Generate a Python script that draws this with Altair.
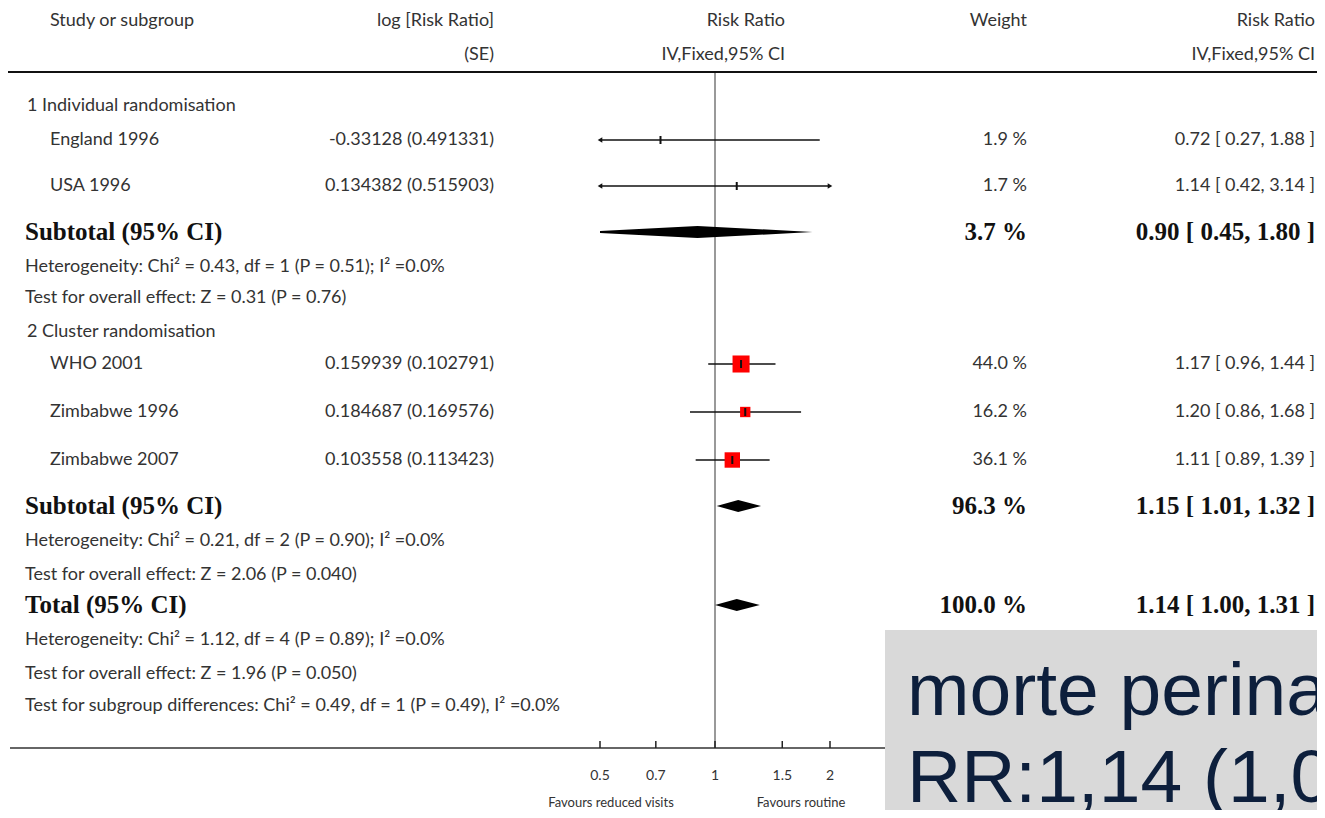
import altair as alt
import pandas as pd
import math

# ---------------- data ----------------
study_names = ["England 1996", "USA 1996", "WHO 2001", "Zimbabwe 1996", "Zimbabwe 2007"]
log_rr = ["-0.33128", "0.134382", "0.159939", "0.184687", "0.103558"]
log_se = ["0.491331", "0.515903", "0.102791", "0.169576", "0.113423"]
weights = [1.9, 1.7, 44.0, 16.2, 36.1]
rr = [0.72, 1.14, 1.17, 1.20, 1.11]
rr_lo = [0.27, 0.42, 0.96, 0.86, 0.89]
rr_hi = [1.88, 3.14, 1.44, 1.68, 1.39]

summary_labels = ["Subtotal (95% CI)", "Subtotal (95% CI)", "Total (95% CI)"]
summary_weights = [3.7, 96.3, 100.0]
summary_rr = [0.90, 1.15, 1.14]
summary_lo = [0.45, 1.01, 1.00]
summary_hi = [1.80, 1.32, 1.31]

group_labels = ["1 Individual randomisation", "2 Cluster randomisation"]
stat_lines = [
    "Heterogeneity: Chi² = 0.43, df = 1 (P = 0.51); I² =0.0%",
    "Test for overall effect: Z = 0.31  (P = 0.76)",
    "Heterogeneity: Chi² = 0.21, df = 2 (P = 0.90); I² =0.0%",
    "Test for overall effect: Z = 2.06 (P = 0.040)",
    "Heterogeneity: Chi² = 1.12, df = 4 (P = 0.89); I² =0.0%",
    "Test for overall effect: Z = 1.96 (P = 0.050)",
    "Test for subgroup differences: Chi² = 0.49, df = 1 (P = 0.49), I² =0.0%",
]
header_top = ["Study or subgroup", "log [Risk Ratio]", "Risk Ratio", "Weight", "Risk Ratio"]
header_bottom = ["", "(SE)", "IV,Fixed,95% CI", "", "IV,Fixed,95% CI"]
axis_ticks = [0.5, 0.7, 1, 1.5, 2]
axis_tick_labels = ["0.5", "0.7", "1", "1.5", "2"]
favours = ["Favours reduced visits", "Favours routine"]
note_lines = ["morte perinatal", "RR:1,14 (1,00-1,31)"]

# ---------------- layout (rows and columns, pixels) ----------------
W, H = 1309, 802
XMIN, XMAX = 0.5, 2.0
x_scale = alt.Scale(type="log", domain=[XMIN, XMAX], range=[592, 822])
y_scale = alt.Scale(domain=[0, H], range=[0, H])

y_header = [13, 47]
y_groups = [98, 324]
y_studies = [132, 178, 356, 404, 452]
y_summary = [224, 498, 597]
y_stats = [259, 290, 533, 567, 632, 666, 698]
y_top_rule, y_axis = 64, 740
y_tick_lab, y_favours = 768, 795
col_name, col_group, col_left = 42, 19, 17
col_log, col_rrhead, col_weight, col_rr = 486, 777, 1019, 1307
favours_px = [603, 793]
header_cols = [(col_name, "left"), (col_log, "right"), (col_rrhead, "right"),
               (col_weight, "right"), (col_rr, "right")]

FONT = "Lato"
SERIF = "Liberation Serif"
TXT = "#333333"
FS = 18
BFS = 25


def clip(v):
    return min(max(v, XMIN), XMAX)


studies = pd.DataFrame({
    "name": study_names, "logtxt": [f"{a} ({b})" for a, b in zip(log_rr, log_se)],
    "w": weights, "rr": rr, "lo": rr_lo, "hi": rr_hi, "y": y_studies,
})
studies["lo_c"] = studies["lo"].apply(clip)
studies["hi_c"] = studies["hi"].apply(clip)
studies["wtxt"] = studies["w"].map(lambda v: f"{v:.1f} %")
studies["citxt"] = [f"{r:.2f} [ {l:.2f}, {h:.2f} ]" for r, l, h in zip(rr, rr_lo, rr_hi)]
studies["yt"] = studies["y"] - 4
studies["yb"] = studies["y"] + 4

arrows = []
for _, r in studies.iterrows():
    if r["lo"] < XMIN:
        arrows.append({"x": XMIN, "y": r["y"], "shape": "triangle-left"})
    if r["hi"] > XMAX:
        arrows.append({"x": XMAX, "y": r["y"], "shape": "triangle-right"})
arrows = pd.DataFrame(arrows)

summ = pd.DataFrame({
    "label": summary_labels, "w": summary_weights, "rr": summary_rr,
    "lo": summary_lo, "hi": summary_hi, "y": y_summary,
})
summ["wtxt"] = summ["w"].map(lambda v: f"{v:.1f} %")
summ["citxt"] = [f"{r:.2f} [ {l:.2f}, {h:.2f} ]" for r, l, h in zip(summary_rr, summary_lo, summary_hi)]

HALF = 6
dia = []
for i, r in summ.iterrows():
    lo, est, hi, y = r["lo"], r["rr"], r["hi"], r["y"]

    def half_at(v):
        if v <= est:
            return HALF * (math.log(v) - math.log(lo)) / (math.log(est) - math.log(lo))
        return HALF * (math.log(hi) - math.log(v)) / (math.log(hi) - math.log(est))

    for v in [clip(lo), est, clip(hi)]:
        h = half_at(v)
        dia.append({"id": i, "x": v, "yt": y - h, "yb": y + h})
dia = pd.DataFrame(dia)

texts_norm = pd.DataFrame(
    [{"t": t, "y": y, "x": col_group} for t, y in zip(group_labels, y_groups)] +
    [{"t": t, "y": y, "x": col_left} for t, y in zip(stat_lines, y_stats)]
)

header_rows = []
for (cx, al), t1, t2 in zip(header_cols, header_top, header_bottom):
    header_rows.append({"t": t1, "y": y_header[0], "x": cx, "al": al})
    if t2:
        header_rows.append({"t": t2, "y": y_header[1], "x": cx, "al": al})
headers = pd.DataFrame(header_rows)

ticks = pd.DataFrame({"v": axis_ticks, "lab": axis_tick_labels})
ticks["y1"] = y_axis - 7
ticks["y2"] = y_axis

one = pd.DataFrame({"a": [0]})


def ytext(field="y"):
    return alt.Y(f"{field}:Q", scale=y_scale, axis=None)


layers = []

# vertical line at RR = 1
layers.append(alt.Chart(pd.DataFrame({"v": [1.0]})).mark_rule(color="#999999", strokeWidth=2).encode(
    x=alt.X("v:Q", scale=x_scale, axis=None), y=alt.value(y_top_rule), y2=alt.value(y_axis)))

# header rule and axis line
layers.append(alt.Chart(one).mark_rule(color="#111111", strokeWidth=2).encode(
    x=alt.value(0), x2=alt.value(W), y=alt.value(y_top_rule)))
layers.append(alt.Chart(one).mark_rule(color="#333333", strokeWidth=1.5).encode(
    x=alt.value(2), x2=alt.value(880), y=alt.value(y_axis)))

# axis ticks & labels
layers.append(alt.Chart(ticks).mark_rule(color="#222222", strokeWidth=1.5).encode(
    x=alt.X("v:Q", scale=x_scale, axis=None), y=ytext("y1"), y2="y2:Q"))
layers.append(alt.Chart(ticks).mark_text(font=FONT, fontSize=14, color=TXT, baseline="middle").encode(
    x=alt.X("v:Q", scale=x_scale, axis=None), y=alt.value(y_tick_lab), text="lab:N"))
layers.append(alt.Chart(pd.DataFrame({"t": favours, "px": favours_px})).mark_text(
    font=FONT, fontSize=13, color=TXT, baseline="middle").encode(
    x=alt.X("px:Q", scale=None), y=alt.value(y_favours), text="t:N"))

# CI lines
layers.append(alt.Chart(studies).mark_rule(color="#111111", strokeWidth=1.5).encode(
    x=alt.X("lo_c:Q", scale=x_scale, axis=None), x2="hi_c:Q", y=ytext()))
layers.append(alt.Chart(arrows).mark_point(filled=True, color="#111111", size=28, opacity=1).encode(
    x=alt.X("x:Q", scale=x_scale, axis=None), y=ytext(),
    shape=alt.Shape("shape:N", scale=None)))
# squares
layers.append(alt.Chart(studies).transform_filter("datum.w >= 5").mark_square(
    filled=True, color="#ff0000", opacity=1).encode(
    x=alt.X("rr:Q", scale=x_scale, axis=None), y=ytext(),
    size=alt.Size("w:Q", scale=alt.Scale(domain=[0, 44], range=[0, 290]), legend=None)))
# point ticks
layers.append(alt.Chart(studies).mark_rule(color="#111111", strokeWidth=2).encode(
    x=alt.X("rr:Q", scale=x_scale, axis=None), y=ytext("yt"), y2="yb:Q"))
# diamonds
layers.append(alt.Chart(dia).mark_area(color="#000000", orient="vertical", opacity=1).encode(
    x=alt.X("x:Q", scale=x_scale, axis=None), y=ytext("yt"), y2="yb:Q", detail="id:N"))

# headers
for al in ["left", "right"]:
    layers.append(alt.Chart(headers[headers["al"] == al]).mark_text(
        font=FONT, fontSize=FS, color=TXT, align=al, baseline="middle").encode(
        x=alt.X("x:Q", scale=None), y=ytext(), text="t:N"))

# normal text lines (groups, stats)
layers.append(alt.Chart(texts_norm).mark_text(
    font=FONT, fontSize=FS, color=TXT, align="left", baseline="middle").encode(
    x=alt.X("x:Q", scale=None), y=ytext(), text="t:N"))

# study rows
for field, cx, al in [("name", col_name, "left"), ("logtxt", col_log, "right"),
                      ("wtxt", col_weight, "right"), ("citxt", col_rr, "right")]:
    layers.append(alt.Chart(studies).mark_text(font=FONT, fontSize=FS, color=TXT, align=al,
                                               baseline="middle").encode(
        x=alt.value(cx), y=ytext(), text=f"{field}:N"))

# summary rows (bold serif)
for field, cx, al in [("label", col_left, "left"), ("wtxt", col_weight, "right"), ("citxt", col_rr, "right")]:
    layers.append(alt.Chart(summ).mark_text(font=SERIF, fontSize=BFS, fontWeight="bold", color="#111111",
                                            align=al, baseline="middle").encode(
        x=alt.value(cx), y=ytext(), text=f"{field}:N"))

# grey note box
layers.append(alt.Chart(one).mark_rect(color="#d9d9d9", opacity=1).encode(
    x=alt.value(877), x2=alt.value(W), y=alt.value(622), y2=alt.value(H)))
layers.append(alt.Chart(pd.DataFrame({"t": note_lines, "y": [707, 794]})).mark_text(
    font="Liberation Sans", fontSize=75, color="#0d1f3c", align="left", baseline="alphabetic").encode(
    x=alt.value(899), y=ytext(), text="t:N"))

chart = alt.layer(*layers).properties(width=W, height=H, padding=0, autosize="none").configure_view(stroke=None)
chart.save("out.html", embed_options={"renderer": "svg", "actions": False})
